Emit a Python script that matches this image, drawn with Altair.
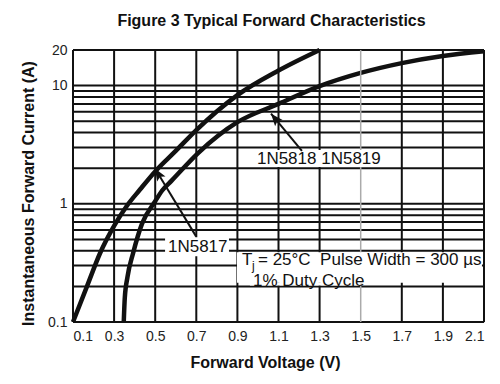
import altair as alt
import pandas as pd

# ---- data ----
v_1n5817 = [0.1, 0.168, 0.231, 0.3, 0.36, 0.426, 0.5, 0.6, 0.7, 0.9, 1.1, 1.3]
i_1n5817 = [0.1, 0.2, 0.38, 0.65, 0.95, 1.32, 1.88, 2.8, 4.2, 8.3, 13.4, 20.0]

v_1n5818 = [0.347, 0.352, 0.365, 0.392, 0.436, 0.5, 0.533, 0.58, 0.71, 0.9, 1.1, 1.3, 1.5, 1.7, 1.9, 2.1]
i_1n5818 = [0.1, 0.16, 0.24, 0.38, 0.68, 1.05, 1.29, 1.57, 2.7, 4.9, 7.0, 9.9, 12.8, 15.5, 17.8, 19.5]

x_ticks = [0.1, 0.3, 0.5, 0.7, 0.9, 1.1, 1.3, 1.5, 1.7, 1.9, 2.1]
y_ticks = [0.1, 1, 10, 20]
x_grid = [0.1, 0.3, 0.5, 0.7, 0.9, 1.1, 1.3, 1.7, 1.9, 2.1]
x_grid_faint = [1.5]
y_grid = [0.1, 0.2, 0.3, 0.4, 0.5, 0.6, 0.7, 0.8, 0.9, 1, 2, 3, 4, 5, 6, 7, 8, 9, 10, 20]

# annotation texts and anchors (data units)
label_texts = ["1N5818 1N5819", "1N5817", "1% Duty Cycle"]
label_v = [0.995, 0.562, 0.976]
label_i = [2.37, 0.429, 0.2215]

# white boxes behind annotations (data units)
box_v1 = [0.976, 0.548, 0.898, 0.961]
box_v2 = [1.623, 0.859, 2.09, 1.5]
box_i1 = [2.85, 0.52, 0.39, 0.216]
box_i2 = [2.05, 0.36, 0.215, 0.204]

# arrows: tail -> tip
arrow_tail_v = [1.214, 0.699]
arrow_tail_i = [2.8, 0.53]
arrow_tip_v = [1.0635, 0.499]
arrow_tip_i = [5.78, 1.99]
arrow_angle = [320, 329]

tj_v = [0.9224]
tj_i = [0.333]

# ---- build ----
FONT = "Liberation Sans"
INK = "#111"
X_MIN, X_MAX = 0.1, 2.1
Y_MIN, Y_MAX = 0.1, 20
xs = alt.Scale(domain=[X_MIN, X_MAX], nice=False, zero=False)
ys = alt.Scale(type="log", domain=[Y_MIN, Y_MAX], nice=False)

curves = pd.concat([
    pd.DataFrame({"v": v_1n5817, "i": i_1n5817, "s": "1N5817"}),
    pd.DataFrame({"v": v_1n5818, "i": i_1n5818, "s": "1N5818"}),
], ignore_index=True)

X_AXIS = alt.Axis(
    values=x_ticks, format=".1f", title="Forward Voltage (V)", grid=False, ticks=False,
    domain=False, labelFont=FONT, labelFontSize=14, labelColor="#222", labelPadding=7,
    labelOverlap=False, titleFont=FONT, titleFontSize=16, titleFontWeight="bold",
    titleColor=INK, titleX=192, titleY=40, titleBaseline="middle", titleAlign="center")
Y_AXIS = alt.Axis(
    values=y_ticks, format="~g", title="Instantaneous Forward Current (A)", grid=False,
    ticks=False, domain=False, labelFont=FONT, labelFontSize=14, labelColor="#222",
    labelPadding=6, labelOverlap=False, titleFont=FONT, titleFontSize=16,
    titleFontWeight="bold", titleColor=INK, titleX=-45, titleY=143, titleAngle=270,
    titleBaseline="middle", titleAlign="center")

lines = alt.Chart(curves).mark_line(color=INK, strokeWidth=4.5, interpolate="monotone").encode(
    x=alt.X("v:Q", scale=xs, axis=X_AXIS),
    y=alt.Y("i:Q", scale=ys, axis=Y_AXIS),
    detail="s:N",
)

vgrid_df = pd.DataFrame({"v": x_grid, "i": [Y_MIN] * len(x_grid), "i2": [Y_MAX] * len(x_grid)})
vgrid = alt.Chart(vgrid_df).mark_rule(color=INK, strokeWidth=2).encode(
    x=alt.X("v:Q", scale=xs), y=alt.Y("i:Q", scale=ys), y2="i2:Q")

hgrid = alt.Chart(pd.DataFrame({"i": y_grid, "v": [X_MIN] * len(y_grid),
                                "v2": [X_MAX] * len(y_grid)})).mark_rule(
    color=INK, strokeWidth=2).encode(
    x=alt.X("v:Q", scale=xs), x2="v2:Q", y=alt.Y("i:Q", scale=ys))

faint_df = pd.DataFrame({"v": x_grid_faint, "i": [Y_MIN], "i2": [Y_MAX]})
faint = alt.Chart(faint_df).mark_rule(color="#aaa", strokeWidth=1.5).encode(
    x=alt.X("v:Q", scale=xs), y=alt.Y("i:Q", scale=ys), y2="i2:Q")

boxes = alt.Chart(pd.DataFrame({"v": box_v1, "v2": box_v2, "i": box_i1, "i2": box_i2})).mark_rect(
    color="white", opacity=1).encode(
    x=alt.X("v:Q", scale=xs), x2="v2:Q",
    y=alt.Y("i:Q", scale=ys), y2="i2:Q",
)

texts = alt.Chart(pd.DataFrame({"t": label_texts, "v": label_v, "i": label_i})).mark_text(
    align="left", baseline="middle", font=FONT, fontSize=17, color=INK).encode(
    x=alt.X("v:Q", scale=xs), y=alt.Y("i:Q", scale=ys), text="t:N")

tj_df = pd.DataFrame({"v": tj_v, "i": tj_i})
t_main = alt.Chart(tj_df).mark_text(align="left", baseline="middle", font=FONT, fontSize=17,
                                    color=INK, text="T").encode(
    x=alt.X("v:Q", scale=xs), y=alt.Y("i:Q", scale=ys))
t_sub = alt.Chart(tj_df).mark_text(align="left", baseline="middle", font=FONT, fontSize=12,
                                   color=INK, text="j", dx=10, dy=6).encode(
    x=alt.X("v:Q", scale=xs), y=alt.Y("i:Q", scale=ys))
t_rest = alt.Chart(tj_df).mark_text(align="left", baseline="middle", font=FONT, fontSize=17,
                                    color=INK, text="= 25\u00b0C \u00a0Pulse Width = 300 \u00b5s",
                                    dx=16).encode(
    x=alt.X("v:Q", scale=xs), y=alt.Y("i:Q", scale=ys))

arrows_df = pd.DataFrame({"v": arrow_tail_v, "i": arrow_tail_i, "hv": arrow_tip_v,
                          "hi": arrow_tip_i, "ang": arrow_angle})
arrow_lines = alt.Chart(arrows_df).mark_rule(color=INK, strokeWidth=2).encode(
    x=alt.X("v:Q", scale=xs), x2="hv:Q",
    y=alt.Y("i:Q", scale=ys), y2="hi:Q",
)
arrow_heads = alt.Chart(arrows_df).mark_point(
    shape="M0,0L-0.8,2L0,1.6L0.8,2Z", filled=True, color=INK, opacity=1, size=150).encode(
    x=alt.X("hv:Q", scale=xs),
    y=alt.Y("hi:Q", scale=ys),
    angle=alt.Angle("ang:Q", scale=None),
)

chart = alt.layer(
    lines, vgrid, hgrid, faint, boxes, texts, t_main, t_sub, t_rest,
    arrow_lines, arrow_heads
).properties(
    width=411, height=272,
    autosize=alt.AutoSizeParams(type="none"),
    padding={"left": 65, "top": 42, "right": 8, "bottom": 54},
    title=alt.TitleParams("Figure 3 Typical Forward Characteristics", font=FONT, fontSize=16,
                          fontWeight="bold", color=INK, anchor="middle", offset=12, dx=-7),
).configure_view(stroke=None).configure(background="white")

chart.save("out.html", embed_options={"renderer": "svg", "actions": False})
